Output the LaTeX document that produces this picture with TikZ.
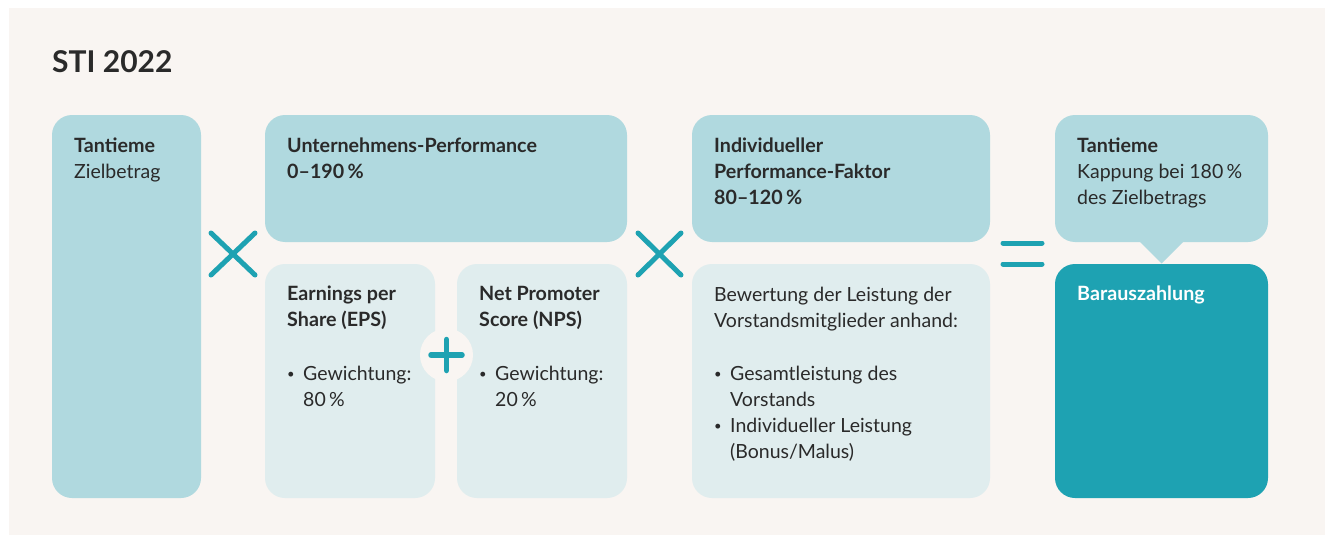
\documentclass[tikz,border=0pt]{standalone}
\usepackage{fontspec}
\setmainfont{Lato}
\definecolor{bgc}{HTML}{F9F5F2}
\definecolor{lblue}{HTML}{B0D9DF}
\definecolor{pblue}{HTML}{E0EDEE}
\definecolor{teal}{HTML}{1EA2B2}
\definecolor{txtc}{HTML}{2A2A2A}
\tikzset{
  box/.style={draw=none, rounded corners=20pt, inner sep=0pt, outer sep=0pt, anchor=north west},
  txt/.style={anchor=base west, inner sep=0pt, text=txtc, font=\fontsize{19.5}{26}\selectfont},
  btxt/.style={txt, font=\fontsize{19.7}{26}\selectfont\bfseries},
  bul/.style={anchor=base west, inner sep=0pt, text=txtc, font=\fontsize{13}{26}\selectfont},
  op/.style={draw=teal, line width=5pt, line cap=round},
}
\begin{document}
\begin{tikzpicture}[x=1pt,y=-1pt]
\useasboundingbox (0,0) rectangle (1325,535);
\fill[white] (0,0) rectangle (1325,535);
\fill[bgc] (9,8) rectangle (1325,535);

\node[anchor=base west, inner sep=0pt, text=txtc, font=\fontsize{30}{36}\selectfont\bfseries] (title) at (52,73) {STI 2022};

% boxes
\node[box, fill=lblue, minimum width=149pt, minimum height=383pt] (ziel) at (52,115) {};
\node[box, fill=lblue, minimum width=362pt, minimum height=127pt] (up) at (265,115) {};
\node[box, fill=pblue, minimum width=170pt, minimum height=234pt] (eps) at (265,264) {};
\node[box, fill=pblue, minimum width=170pt, minimum height=234pt] (nps) at (457,264) {};
\node[box, fill=lblue, minimum width=298pt, minimum height=127pt] (ipf) at (692,115) {};
\node[box, fill=pblue, minimum width=298pt, minimum height=234pt] (bew) at (692,264) {};
\node[box, fill=lblue, minimum width=213pt, minimum height=127pt] (kap) at (1055,115) {};
\fill[lblue] (1139,241) -- (1161.5,263.5) -- (1184,241) -- cycle;
\node[box, fill=teal, minimum width=213pt, minimum height=234pt] (bar) at (1055,264) {};

% operators
\draw[op] (211,233) -- (255,275) (211,275) -- (255,233);
\draw[op] (638,233) -- (681,275) (638,275) -- (681,233);
\fill[bgc] (446.5,355) circle (26.5);
\draw[op, line width=5.5pt] (431,355) -- (462,355) (446.5,339.5) -- (446.5,370.5);
\draw[op] (1003,243) -- (1042,243) (1003,264) -- (1042,264);

% texts
\node[btxt] (t1a) at (74,152) {Tantieme};
\node[txt] (t1b) at (74,178) {Zielbetrag};

\node[btxt] (t2a) at (287,152) {Unternehmens-Performance};
\node[btxt] (t2b) at (287,178) {0–190\,\%};

\node[btxt] (t3a) at (287,300) {Earnings per};
\node[btxt] (t3b) at (287,326) {Share (EPS)};
\node[bul] (t3c) at (287,378) {•};
\node[txt] (t3d) at (303,380) {Gewichtung:};
\node[txt] (t3e) at (303,406) {80\,\%};

\node[btxt] (t4a) at (479,300) {Net Promoter};
\node[btxt] (t4b) at (479,326) {Score (NPS)};
\node[bul] (t4c) at (479,378) {•};
\node[txt] (t4d) at (495,380) {Gewichtung:};
\node[txt] (t4e) at (495,406) {20\,\%};

\node[btxt] (t5a) at (714,152) {Individueller};
\node[btxt] (t5b) at (714,178) {Performance-Faktor};
\node[btxt] (t5c) at (714,204) {80–120\,\%};

\node[txt] (t6a) at (714,301) {Bewertung der Leistung der};
\node[txt] (t6b) at (714,327) {Vorstandsmitglieder anhand:};
\node[bul] (t6c) at (714,378) {•};
\node[txt] (t6d) at (730,380) {Gesamtleistung des};
\node[txt] (t6e) at (730,406) {Vorstands};
\node[bul] (t6f) at (714,430) {•};
\node[txt] (t6g) at (730,432) {Individueller Leistung};
\node[txt] (t6h) at (730,458) {(Bonus/Malus)};

\node[btxt] (t7a) at (1077,152) {Tantieme};
\node[txt] (t7b) at (1077,178) {Kappung bei 180\,\%};
\node[txt] (t7c) at (1077,204) {des Zielbetrags};

\node[btxt, text=white] (t8a) at (1077,300) {Barauszahlung};
\end{tikzpicture}
\end{document}
